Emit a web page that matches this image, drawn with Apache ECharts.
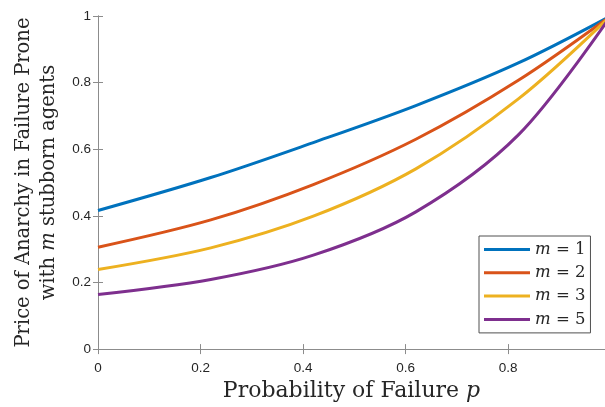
<!DOCTYPE html>
<html>
<head>
<meta charset="utf-8">
<script src="https://cdn.jsdelivr.net/npm/echarts@6.0.0/dist/echarts.min.js"></script>
<style>
  html, body { margin: 0; padding: 0; background: #fff; }
  #chart { width: 605px; height: 407px; }
</style>
</head>
<body>
<div id="chart"></div>
<script>
// Probability of failure (x) sample points
const failureProb = [0, 0.22, 0.42, 0.62, 0.82, 1.0];

// Price of anarchy for each number of stubborn agents m
const poaM1 = [0.416, 0.515, 0.620, 0.731, 0.859, 1.0];
const poaM2 = [0.306, 0.388, 0.494, 0.630, 0.807, 1.0];
const poaM3 = [0.239, 0.304, 0.399, 0.541, 0.751, 1.0];
const poaM5 = [0.164, 0.209, 0.282, 0.412, 0.643, 1.0];

const seriesNames = ['m = 1', 'm = 2', 'm = 3', 'm = 5'];
const seriesValues = [poaM1, poaM2, poaM3, poaM5];
const seriesColors = ['#0072BD', '#D95319', '#EDB120', '#7E2F8E'];

const axisGray = '#8c8c8c';
const tickText = '#262626';
const serif = '"DejaVu Serif", "Liberation Serif", serif';
const sans = '"Liberation Sans", Arial, sans-serif';

const pairs = vals => failureProb.map((p, i) => [p, vals[i]]);

const frameAxis = (position, extra) => Object.assign({
  type: 'value', min: 0, max: 0.989, interval: 0.2, position,
  axisLine: { show: true, lineStyle: { color: axisGray, width: 1 } },
  axisTick: { show: true, inside: true, length: 5, lineStyle: { color: axisGray } },
  splitLine: { show: false },
  axisLabel: { show: false }
}, extra);

const chart = echarts.init(document.getElementById('chart'), null, { renderer: 'canvas' });

chart.setOption({
  backgroundColor: '#ffffff',
  animation: false,
  grid: { left: 98, top: 16, bottom: 56, right: 0, containLabel: false },
  xAxis: [
    frameAxis('bottom', {
      axisLabel: { show: true, color: tickText, fontSize: 13.5, fontFamily: sans, margin: 12, showMaxLabel: false },
      name: 'Probability of Failure {i|p}',
      nameLocation: 'middle',
      nameGap: 29,
      nameTextStyle: {
        fontFamily: serif, fontSize: 22, color: tickText,
        rich: { i: { fontFamily: serif, fontStyle: 'italic', fontSize: 22, color: tickText } }
      }
    }),
    frameAxis('top')
  ],
  yAxis: [
    frameAxis('left', {
      max: 1,
      axisLabel: { show: true, color: tickText, fontSize: 13.5, fontFamily: sans, margin: 7 },
      name: 'Price of Anarchy in Failure Prone\nwith {i|m} stubborn agents',
      nameLocation: 'middle',
      nameGap: 36,
      nameRotate: 90,
      nameTextStyle: {
        fontFamily: serif, fontSize: 19.5, color: tickText, lineHeight: 25, align: 'center',
        rich: { i: { fontFamily: serif, fontStyle: 'italic', fontSize: 19.5, color: tickText, lineHeight: 25 } }
      }
    }),
    frameAxis('right', { max: 1 })
  ],
  legend: {
    orient: 'vertical',
    left: 479,
    top: 236,
    padding: [5, 5, 5, 5],
    itemGap: 6.3,
    itemWidth: 46,
    itemHeight: 3,
    icon: 'rect',
    backgroundColor: '#ffffff',
    borderColor: '#505050',
    borderWidth: 1,
    borderRadius: 0,
    data: seriesNames,
    formatter: n => n.replace(/^m/, '{i|m}'),
    textStyle: {
      fontFamily: serif, fontSize: 16.5, color: tickText,
      rich: { i: { fontFamily: serif, fontStyle: 'italic', fontSize: 16.5, color: tickText } }
    }
  },
  series: seriesNames.map((n, i) => ({
    name: n,
    type: 'line',
    data: pairs(seriesValues[i]),
    smooth: 0.33,
    showSymbol: false,
    symbol: 'none',
    clip: true,
    color: seriesColors[i],
    lineStyle: { color: seriesColors[i], width: 3 }
  }))
});
</script>
</body>
</html>
